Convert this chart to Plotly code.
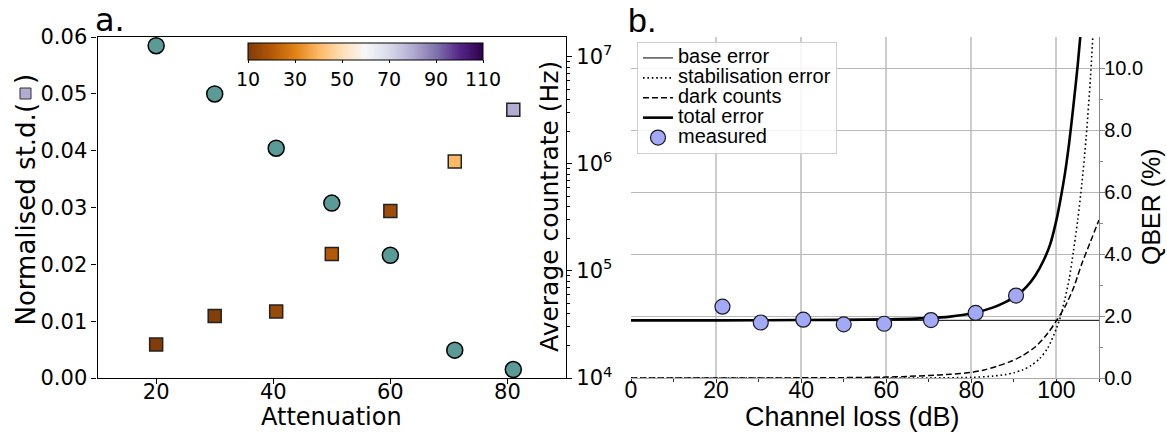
import plotly.graph_objects as go

# ---------------- Panel a data ----------------
attenuation = [20, 30, 40.5, 50, 60, 71, 81]
norm_std = [0.0059, 0.0109, 0.0117, 0.0218, 0.0294, 0.0381, 0.0472]
square_colour_value = [10.5, 11, 15, 20, 16, 40, 80]
countrate_hz = [1.27e7, 4.5e6, 1.4e6, 4.3e5, 1.4e5, 1.82e4, 1.2e4]

left_x_ticks = [20, 40, 60, 80]
left_y_ticks = [0.0, 0.01, 0.02, 0.03, 0.04, 0.05, 0.06]
countrate_ticks = [1e4, 1e5, 1e6, 1e7]
countrate_tick_text = ["10<sup>4</sup>", "10<sup>5</sup>", "10<sup>6</sup>", "10<sup>7</sup>"]
countrate_minor = [2e4, 3e4, 4e4, 5e4, 6e4, 7e4, 8e4, 9e4,
                   2e5, 3e5, 4e5, 5e5, 6e5, 7e5, 8e5, 9e5,
                   2e6, 3e6, 4e6, 5e6, 6e6, 7e6, 8e6, 9e6]
colorbar_ticks = [10, 30, 50, 70, 90, 110]

# ---------------- Panel b data ----------------
loss_measured = [21.5, 30.5, 40.5, 50, 59.5, 70.5, 81, 90.5]
qber_measured = [2.30, 1.79, 1.88, 1.73, 1.75, 1.87, 2.10, 2.66]

loss_base = [0, 110]
base_error = [1.86, 1.86]

loss_stab = [0, 50, 60, 70, 80, 85, 88, 90, 92, 94, 96, 98, 100, 101, 102, 103, 104, 105, 106, 107, 108, 109]
stab_error = [0.0, 0.0, 0.0, 0.002, 0.02, 0.06, 0.11, 0.17, 0.26, 0.40, 0.62, 0.98, 1.6, 2.0, 2.55, 3.2, 4.1, 5.1, 6.3, 7.8, 9.7, 12.2]

loss_dark = [0, 40, 50, 60, 65, 70, 75, 80, 83, 86, 89, 92, 95, 98, 100, 102, 104, 105, 106, 108, 110]
dark_error = [0.0, 0.005, 0.012, 0.03, 0.05, 0.08, 0.12, 0.18, 0.26, 0.38, 0.52, 0.72, 1.0, 1.45, 1.85, 2.3, 2.9, 3.3, 3.7, 4.4, 5.1]

loss_total = [0, 20, 40, 60, 70, 75, 80, 85, 88, 90.5, 93, 95, 97, 98.5, 100, 101, 102, 103, 104, 105, 106]
total_error = [1.86, 1.86, 1.87, 1.89, 1.93, 1.98, 2.08, 2.27, 2.45, 2.64, 2.95, 3.3, 3.8, 4.3, 5.1, 5.8, 6.6, 7.6, 8.8, 10.1, 11.6]

right_x_ticks = [0, 20, 40, 60, 80, 100]
qber_ticks = [0, 2, 4, 6, 8, 10]

puor = [[0.0, "#7f3b08"], [0.1, "#b35806"], [0.2, "#e08214"], [0.3, "#fdb863"],
        [0.4, "#fee0b6"], [0.5, "#f7f7f7"], [0.6, "#d8daeb"], [0.7, "#b2abd2"],
        [0.8, "#8073ac"], [0.9, "#542788"], [1.0, "#2d004b"]]

W, H = 1167, 432
def px(x):
    return x / W
def py(y):
    return 1 - y / H

LEFT_DOM = [px(97.6), px(566)]
RIGHT_DOM = [px(631), px(1099)]
Y_DOM = [py(378), py(37)]

DJ = "DejaVu Sans"
LS = "Liberation Sans, Arial, sans-serif"
LSN = "Liberation Sans Narrow, Arial Narrow, Liberation Sans, sans-serif"

def leg(name):
    return "<span style='font-size:20px'>" + name + "</span>"

fig = go.Figure()

# Panel a: circles on log axis (countrate)
fig.add_trace(go.Scatter(
    x=attenuation, y=countrate_hz, mode="markers", xaxis="x", yaxis="y2",
    marker=dict(symbol="circle", size=16, color="#5a9b97", line=dict(color="black", width=1.5)),
    showlegend=False, cliponaxis=False))
# Panel a: squares (normalised std) coloured by colour scale
fig.add_trace(go.Scatter(
    x=attenuation, y=norm_std, mode="markers", xaxis="x", yaxis="y",
    marker=dict(symbol="square", size=13, color=square_colour_value, colorscale=puor,
                cmin=10, cmax=110, line=dict(color="#222222", width=1.5),
                showscale=True,
                colorbar=dict(orientation="h", x=px(365.5), xanchor="center",
                              y=py(43), yanchor="top", len=235, lenmode="pixels",
                              thickness=17, xpad=0, ypad=0,
                              tickvals=colorbar_ticks, ticks="outside", ticklen=3,
                              tickcolor="black",
                              tickfont=dict(family=DJ, size=19, color="black"),
                              outlinewidth=1, outlinecolor="black")),
    showlegend=False))

# Panel b curves
fig.add_trace(go.Scatter(x=loss_base, y=base_error, mode="lines", name=leg("base error"),
                         xaxis="x2", yaxis="y3", line=dict(color="black", width=1)))
fig.add_trace(go.Scatter(x=loss_stab, y=stab_error, mode="lines", name=leg("stabilisation error"),
                         xaxis="x2", yaxis="y3",
                         line=dict(color="black", width=1.6, dash="1.6px,2.8px", shape="spline", smoothing=0.8)))
fig.add_trace(go.Scatter(x=loss_dark, y=dark_error, mode="lines", name=leg("dark counts"),
                         xaxis="x2", yaxis="y3",
                         line=dict(color="black", width=1.5, dash="6px,3px", shape="spline", smoothing=0.8)))
fig.add_trace(go.Scatter(x=loss_total, y=total_error, mode="lines", name=leg("total error"),
                         xaxis="x2", yaxis="y3",
                         line=dict(color="black", width=2.6, shape="spline", smoothing=0.8)))
fig.add_trace(go.Scatter(x=loss_measured, y=qber_measured, mode="markers", name=leg("measured"),
                         xaxis="x2", yaxis="y3",
                         marker=dict(symbol="circle", size=15, color="#a2a9f6",
                                     line=dict(color="#1a1a1a", width=1.2))))

tick_common = dict(ticks="outside", ticklen=5, tickwidth=1.2, tickcolor="black",
                   showline=True, linecolor="black", linewidth=1.3, zeroline=False)

fig.update_layout(
    width=W, height=H, margin=dict(l=0, r=0, t=0, b=0, autoexpand=False),
    paper_bgcolor="white", plot_bgcolor="white",
    font=dict(family=DJ, size=20, color="black"),
    xaxis=dict(domain=LEFT_DOM, range=[10, 90], tickvals=left_x_ticks, mirror=True,
               showgrid=False, anchor="y", tickfont=dict(family=DJ, size=21),
               ticklabelstandoff=-10, **tick_common),
    yaxis=dict(domain=Y_DOM, range=[0, 0.06], tickvals=left_y_ticks, tickformat=".2f",
               showgrid=False, anchor="x", tickfont=dict(family=DJ, size=21), **tick_common),
    yaxis2=dict(type="log", range=[4, 7.185], overlaying="y", side="right", anchor="x",
                tickvals=countrate_ticks, ticktext=countrate_tick_text, showgrid=False,
                tickfont=dict(family=DJ, size=21),
                minor=dict(tickvals=countrate_minor, ticks="outside", ticklen=3,
                           tickcolor="black", tickwidth=1),
                **tick_common),
    xaxis2=dict(domain=RIGHT_DOM, range=[0, 110], tickvals=right_x_ticks, anchor="y3",
                showgrid=True, gridcolor="#cccccc", gridwidth=1.5,
                ticks="outside", ticklen=4, tickwidth=1, tickcolor="#333333",
                showline=True, linecolor="#aaaaaa", linewidth=1, zeroline=False,
                tickfont=dict(family=LSN, size=23), ticklabelstandoff=-13,
                minor=dict(tickvals=[10, 30, 50, 70, 90, 110], ticks="outside", ticklen=3,
                           tickcolor="#333333", showgrid=False)),
    xaxis3=dict(overlaying="x2", side="top", anchor="y3", range=[0, 110], showline=True,
                linecolor="black", linewidth=1.3, ticks="", showticklabels=False,
                showgrid=False, zeroline=False),
    yaxis3=dict(domain=Y_DOM, range=[0, 11], tickvals=qber_ticks, tickformat=".1f",
                side="right", anchor="x2", showgrid=True, gridcolor="#b8b8b8", gridwidth=1,
                ticks="outside", ticklen=5, tickwidth=1.2, tickcolor="#888888",
                showline=True, linecolor="#888888", linewidth=1.3, zeroline=False,
                tickfont=dict(family=LS, size=20), ticklabelstandoff=-5,
                minor=dict(tickvals=[1, 3, 5, 7, 9], ticks="outside", ticklen=3,
                           tickcolor="#888888", showgrid=False)),
    yaxis4=dict(overlaying="y3", side="left", anchor="x2", range=[0, 11], showline=True,
                linecolor="black", linewidth=1.3, ticks="", showticklabels=False,
                showgrid=False, zeroline=False),
    legend=dict(x=px(637), y=py(42), xanchor="left", yanchor="top",
                bgcolor="rgba(255,255,255,0.85)", bordercolor="#cfcfcf", borderwidth=1,
                font=dict(family=LS, size=13), tracegroupgap=0, itemwidth=30),
)

annotations = [
    dict(text="a.", x=px(93), y=py(41), xanchor="left", yanchor="bottom",
         font=dict(family=DJ, size=32)),
    dict(text="b.", x=px(626), y=py(41), xanchor="left", yanchor="bottom",
         font=dict(family=LS, size=34)),
    dict(text="Attenuation", x=px(331.5), y=py(417), xanchor="center", yanchor="middle",
         font=dict(family=DJ, size=24)),
    dict(text="Normalised st.d.(", x=px(25), y=py(101),
         xanchor="center", yanchor="top", textangle=-90, font=dict(family=DJ, size=26)),
    dict(text=")", x=px(25), y=py(86),
         xanchor="center", yanchor="bottom", textangle=-90, font=dict(family=DJ, size=26)),
    dict(text="Average countrate (Hz)", x=px(549), y=py(207), xanchor="center", yanchor="middle",
         textangle=-90, font=dict(family=DJ, size=25)),
    dict(text="Channel loss (dB)", x=px(852), y=py(417), xanchor="center", yanchor="middle",
         font=dict(family=LS, size=27)),
    dict(text="QBER (%)", x=px(1151), y=py(207), xanchor="center", yanchor="middle",
         textangle=-90, font=dict(family=LS, size=25)),
]
for a in annotations:
    a.update(xref="paper", yref="paper", showarrow=False)

# small lavender square symbol inside the y-axis title parentheses
shapes = [dict(type="rect", xref="paper", yref="paper",
               x0=px(20), x1=px(31), y0=py(99), y1=py(88),
               fillcolor="#b2abd2", line=dict(color="#333333", width=1))]

fig.update_layout(annotations=annotations, shapes=shapes)

fig.write_html("out.html")
